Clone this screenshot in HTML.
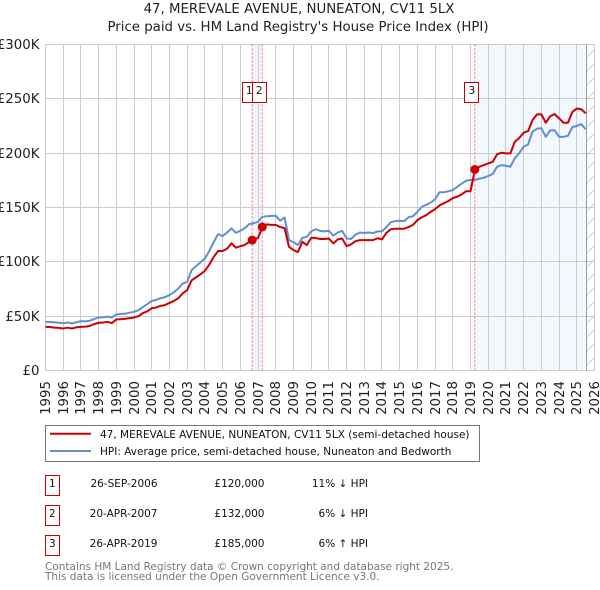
<!DOCTYPE html>
<html>
<head>
<meta charset="utf-8">
<title>47, Merevale Avenue price chart</title>
<style>
html,body{margin:0;padding:0;background:#fff;}
svg{display:block;font-family:"DejaVu Sans","Liberation Sans",sans-serif;}
</style>
</head>
<body>
<svg id="chart" width="600" height="590" viewBox="0 0 600 590" xmlns="http://www.w3.org/2000/svg">
  <defs>
    <pattern id="hatch" width="14" height="14" patternUnits="userSpaceOnUse">
      <line x1="0" y1="14" x2="14" y2="0" stroke="#d0d0d0" stroke-width="1"/>
    </pattern>
  </defs>
  <text x="299" y="13" font-size="13.33" text-anchor="middle" fill="#222">47, MEREVALE AVENUE, NUNEATON, CV11 5LX</text>
  <text x="298" y="31" font-size="13.33" text-anchor="middle" fill="#222">Price paid vs. HM Land Registry's House Price Index (HPI)</text>
  <g id="bands"></g>
  <g id="grid"></g>
  <g id="series"></g>
  <g id="sales"></g>
  <g id="xlabels"></g>
  <g id="ylabels"></g>

  <g>
    <rect x="45.5" y="425.5" width="434" height="36" fill="#fff" stroke="#777" stroke-width="1"/>
    <line x1="50" y1="433.7" x2="91" y2="433.7" stroke="#cc0000" stroke-width="2"/>
    <text x="100" y="438" font-size="10.5" fill="#111">47, MEREVALE AVENUE, NUNEATON, CV11 5LX (semi-detached house)</text>
    <line x1="50" y1="451" x2="91" y2="451" stroke="#5f8fd0" stroke-width="2"/>
    <text x="100" y="455" font-size="10.5" fill="#111">HPI: Average price, semi-detached house, Nuneaton and Bedworth</text>
  </g>

  <g font-size="10.5" fill="#111">
    <g>
      <rect x="45.5" y="475.5" width="14" height="20" fill="#fff" stroke="#cc0000"/>
      <text x="52.4" y="487" text-anchor="middle">1</text>
      <text x="157.5" y="487" text-anchor="end">26-SEP-2006</text>
      <text x="264.5" y="487" text-anchor="end">£120,000</text>
      <text x="368" y="487" text-anchor="end">11% ↓ HPI</text>
    </g>
    <g>
      <rect x="45.5" y="505.5" width="14" height="20" fill="#fff" stroke="#cc0000"/>
      <text x="52.4" y="517" text-anchor="middle">2</text>
      <text x="157.5" y="517" text-anchor="end">20-APR-2007</text>
      <text x="264.5" y="517" text-anchor="end">£132,000</text>
      <text x="368" y="517" text-anchor="end">6% ↓ HPI</text>
    </g>
    <g>
      <rect x="45.5" y="535.5" width="14" height="20" fill="#fff" stroke="#cc0000"/>
      <text x="52.4" y="547" text-anchor="middle">3</text>
      <text x="157.5" y="547" text-anchor="end">26-APR-2019</text>
      <text x="264.5" y="547" text-anchor="end">£185,000</text>
      <text x="368" y="547" text-anchor="end">6% ↑ HPI</text>
    </g>
  </g>

  <text x="45" y="570" font-size="10.5" fill="#777">Contains HM Land Registry data © Crown copyright and database right 2025.</text>
  <text x="45" y="580" font-size="10.5" fill="#777">This data is licensed under the Open Government Licence v3.0.</text>
</svg>

<script>
// Quarterly values (in £ thousands), starting at Q1 1995
var startYear = 1995;
var stepYears = 0.25;
var hpiValues = [
  44.9,44.6,44.3,44.0,
  43.5,44.2,43.3,44.5,
  45.4,45.2,45.8,47.4,
  48.8,49.0,49.6,48.8,
  51.6,52.0,52.3,53.2,
  54.0,55.5,58.5,61.0,
  64.0,65.0,66.5,67.5,
  69.4,72.0,75.5,80.0,
  81.6,92.4,96.0,99.5,
  103,110,118.4,125.5,
  123.7,127,130.7,126.7,
  128.6,131,134.7,135.5,
  136.8,141.4,142,142.2,
  142.4,137.8,140.9,120,
  118,115.5,122,123,
  128,130,128.5,128,
  128.6,124,127,128.5,
  121.5,121,125,127,
  126.5,127,126.5,128,
  128,132,136.5,137.5,
  137.8,137.5,141,142,
  146,150.7,152.5,154.5,
  157.7,164,164,165,
  166,169,172,174.6,
  175.3,175.5,176.5,177.4,
  179,180.8,187.5,189,
  188.4,187.5,195.4,200,
  206,208,219.7,222.5,
  223,215,221,221,
  215,215,216,224,
  225,226.8,222
];
var priceValues = [
  40.2,40,39.5,39.2,
  38.7,39.4,38.6,39.8,
  40.2,40.4,41,42.8,
  43.8,44.2,44.8,43.6,
  47,47.2,47.6,48.2,
  48.8,50,52.8,54.5,
  57.3,58,59.5,60.2,
  62.2,64,66.5,71,
  74,83,85.7,88.5,
  91.7,97.5,104.6,110,
  110,112,117,113,
  114.4,115.5,118.4,120.5,
  122,132,134.5,134,
  134,132,131,113.8,
  110.8,109,118.4,115.4,
  122,122,121,121,
  121.5,117,120.6,121.5,
  114.5,116,119,120,
  120,120,120,121.7,
  120.6,126.7,130,130.5,
  130.5,130.5,132,134,
  138.4,141,143,146,
  148.5,152,154,156,
  158.6,160,162,165,
  165,185,187.5,189,
  190.6,192,199,200.4,
  199.8,199.8,210.5,214,
  218.8,220.3,230.5,235.7,
  235.7,228,234,236,
  232,228,228,238,
  241,240.4,236.7
];
var saleLabels = ["1","2","3"];
var saleYears = [2006.67,2007.24,2019.24];
var salePrices = [120,132,185];
var yTickValues = [0,50,100,150,200,250,300];
var yTickLabels = ["£0","£50K","£100K","£150K","£200K","£250K","£300K"];
var xTickYears = [1995,1996,1997,1998,1999,2000,2001,2002,2003,2004,2005,2006,2007,2008,2009,2010,2011,2012,2013,2014,2015,2016,2017,2018,2019,2020,2021,2022,2023,2024,2025,2026];
var dataEndYear = 2025.53;

var NS = "http://www.w3.org/2000/svg";
function xScale(year){ return 45.5 + (year - 1995) * 17.71; }
function yScale(v){ return 370.5 - v * (326 / 300); }
function snap(p){ return Math.round(p - 0.5) + 0.5; }
function mk(tag, parent, attrs){
  var el = document.createElementNS(NS, tag);
  for (var k in attrs) el.setAttribute(k, attrs[k]);
  document.getElementById(parent).appendChild(el);
  return el;
}
var plotTop = yScale(300), plotBottom = yScale(0), plotLeft = xScale(1995), plotRight = xScale(2026);

// shaded bands
var band1 = mk("rect", "bands", {x: xScale(saleYears[0]), y: snap(plotTop), width: xScale(saleYears[1]) - xScale(saleYears[0]), height: snap(plotBottom) - snap(plotTop), fill: "#f2f6fe"});


var band2 = mk("rect", "bands", {x: xScale(saleYears[2]), y: snap(plotTop), width: xScale(dataEndYear) - xScale(saleYears[2]), height: snap(plotBottom) - snap(plotTop), fill: "#f3f7fe"});


var hatch = mk("rect", "bands", {x: xScale(dataEndYear), y: snap(plotTop), width: plotRight - xScale(dataEndYear), height: snap(plotBottom) - snap(plotTop), fill: "url(#hatch)"});



// grid and tick labels
yTickValues.forEach(function(v, i){
  var py = snap(yScale(v));
  var g = mk("line", "grid", {x1: snap(plotLeft), x2: snap(plotRight), y1: py, y2: py, stroke: "#cccccc", "stroke-width": 1});
  
  
  var t = mk("text", "ylabels", {x: 39.5, y: py + 4.5, "font-size": 13.33, "text-anchor": "end", fill: "#222"});
  
  
  t.textContent = yTickLabels[i];
});
xTickYears.forEach(function(yr){
  var px = snap(xScale(yr));
  var g = mk("line", "grid", {x1: px, x2: px, y1: snap(plotTop), y2: snap(plotBottom), stroke: "#cccccc", "stroke-width": 1});
  
  
  var t = mk("text", "xlabels", {transform: "translate(" + (px + 4.5) + ",381) rotate(-90)", "font-size": 13.33, "text-anchor": "end", fill: "#222"});
  
  
  t.textContent = String(yr);
});
var endLine = mk("line", "grid", {x1: snap(xScale(dataEndYear)), x2: snap(xScale(dataEndYear)), y1: snap(plotTop), y2: snap(plotBottom), stroke: "#999999", "stroke-width": 1});



// series
function linePath(values){
  return values.map(function(v, i){
    return (i ? "L" : "M") + xScale(startYear + i * stepYears).toFixed(2) + " " + yScale(v).toFixed(2);
  }).join(" ");
}
var hpiLine = mk("path", "series", {d: linePath(hpiValues), fill: "none", stroke: "#5f8fd0", "stroke-width": 2, "stroke-linejoin": "round"});


var priceLine = mk("path", "series", {d: linePath(priceValues), fill: "none", stroke: "#cc0000", "stroke-width": 2, "stroke-linejoin": "round"});



// sale markers
saleYears.forEach(function(yr, i){
  var px = xScale(yr);
  var vline = mk("line", "sales", {x1: px, x2: px, y1: snap(plotTop), y2: snap(plotBottom), stroke: "#ff6666", "stroke-width": 1, "stroke-dasharray": "2 2"});
  
  
});
saleYears.forEach(function(yr, i){
  var px = xScale(yr);
  var dot = mk("circle", "sales", {cx: px, cy: yScale(salePrices[i]), r: 4.5, fill: "#cc0000"});
  
  
  var box = mk("rect", "sales", {x: snap(px - 10), y: 82.5, width: 14, height: 20, fill: "#fff", stroke: "#cc0000", "stroke-width": 1});
  
  
  var lab = mk("text", "sales", {x: px - 3, y: 94, "font-size": 10.5, "text-anchor": "middle", fill: "#111"});
  
  
  lab.textContent = saleLabels[i];
});
</script>
</body>
</html>
